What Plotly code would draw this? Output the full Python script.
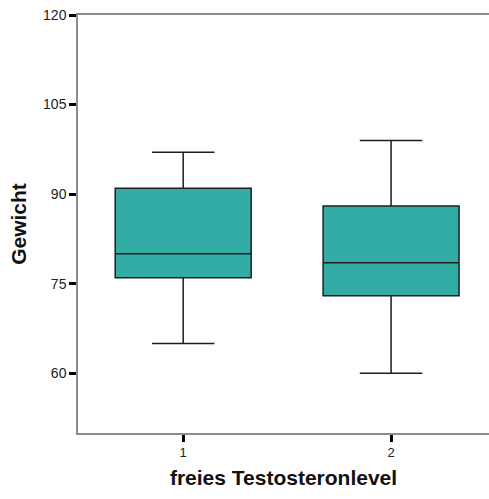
import plotly.graph_objects as go

categories = [1, 2]
lower_whisker = [65, 60]
q1_vals = [76, 73]
median_vals = [80, 78.5]
q3_vals = [91, 88]
upper_whisker = [97, 99]
y_ticks = [60, 75, 90, 105, 120]
x_tick_labels = ["1", "2"]

FONT = "Liberation Sans, Arial, sans-serif"

fig = go.Figure()
fig.add_trace(go.Box(
    x=categories,
    q1=q1_vals,
    median=median_vals,
    q3=q3_vals,
    lowerfence=lower_whisker,
    upperfence=upper_whisker,
    fillcolor="#33aca6",
    line=dict(color="#1e1e1e", width=1.5),
    whiskerwidth=0.46,
    width=0.654,
    boxpoints=False,
    hoverinfo="skip",
    showlegend=False,
))

fig.update_layout(
    width=489, height=499,
    margin=dict(l=78, r=0, t=15, b=66),
    plot_bgcolor="white", paper_bgcolor="white",
    font=dict(family=FONT, size=13, color="#222"),
    xaxis=dict(
        range=[0.494, 2.471],
        tickvals=categories, ticktext=x_tick_labels,
        showgrid=False, zeroline=False,
        showline=True, linecolor="#8c8c8c", linewidth=1.5, mirror=True,
        ticks="outside", ticklen=7, tickwidth=3, tickcolor="black",
        tickfont=dict(family=FONT, size=13),
        title=dict(text="<b>freies Testosteronlevel</b>", font=dict(family=FONT, size=21, color="#111"), standoff=11),
    ),
    yaxis=dict(
        range=[50, 120],
        tickvals=y_ticks,
        showgrid=False, zeroline=False,
        showline=True, linecolor="#8c8c8c", linewidth=1.5,
        ticks="outside", ticklen=7, tickwidth=3, tickcolor="black",
        tickfont=dict(family=FONT, size=14),
        title=dict(text="<b>Gewicht</b>", font=dict(family=FONT, size=21, color="#111"), standoff=11),
    ),
)

fig.write_html("out.html")
